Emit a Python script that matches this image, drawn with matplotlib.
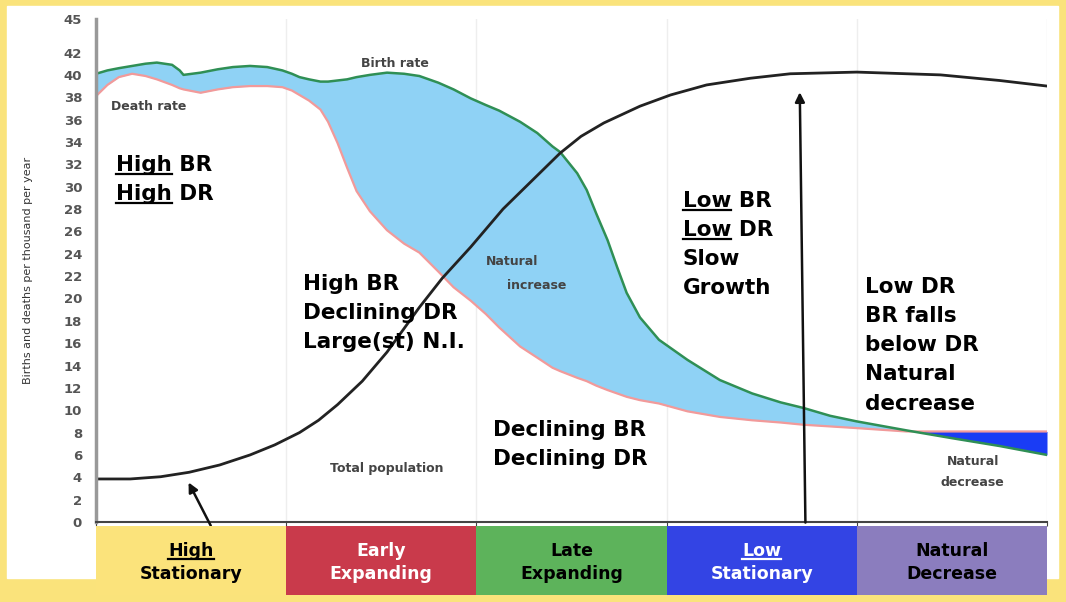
import numpy as np
import matplotlib.pyplot as plt
from matplotlib.patches import Rectangle
from matplotlib.lines import Line2D

# x runs 0..5, one unit per stage of the model
x = [0, 0.06, 0.12, 0.19, 0.26, 0.32, 0.40, 0.44, 0.46, 0.55, 0.64, 0.72, 0.81, 0.90,
     0.98, 1.03, 1.07, 1.12, 1.18, 1.22, 1.27, 1.32, 1.37, 1.44, 1.53, 1.62, 1.70, 1.80,
     1.88, 1.97, 2.05, 2.12, 2.23, 2.32, 2.40, 2.44, 2.53, 2.58, 2.63, 2.69, 2.74, 2.79,
     2.86, 2.96, 3.11, 3.28, 3.45, 3.60, 3.72, 3.86, 4.0, 4.13, 4.26, 4.5, 4.75, 5.0]
birth = [40.1, 40.4, 40.6, 40.8, 41.0, 41.1, 40.9, 40.4, 40.0, 40.2, 40.5, 40.7, 40.8, 40.7,
         40.4, 40.1, 39.8, 39.6, 39.4, 39.4, 39.5, 39.6, 39.8, 40.0, 40.2, 40.1, 39.9, 39.3,
         38.7, 37.9, 37.3, 36.8, 35.8, 34.8, 33.6, 33.1, 31.2, 29.7, 27.6, 25.2, 22.8, 20.5,
         18.3, 16.3, 14.5, 12.7, 11.5, 10.7, 10.2, 9.5, 9.0, 8.6, 8.2, 7.5, 6.8, 6.0]
death = [38.1, 39.1, 39.8, 40.1, 39.9, 39.6, 39.1, 38.8, 38.7, 38.4, 38.7, 38.9, 39.0, 39.0,
         38.9, 38.6, 38.2, 37.7, 36.9, 35.8, 33.9, 31.7, 29.6, 27.8, 26.1, 24.9, 24.1, 22.4,
         21.0, 19.8, 18.6, 17.4, 15.7, 14.7, 13.8, 13.5, 12.9, 12.6, 12.2, 11.8, 11.5, 11.2,
         10.9, 10.6, 9.9, 9.4, 9.1, 8.9, 8.7, 8.55, 8.4, 8.25, 8.1, 8.1, 8.1, 8.1]

pop_x = [0, 0.18, 0.34, 0.49, 0.65, 0.81, 0.94, 1.07, 1.17, 1.27, 1.40, 1.53, 1.70, 1.82,
         1.97, 2.14, 2.32, 2.44, 2.55, 2.67, 2.86, 3.02, 3.21, 3.44, 3.65, 4.0, 4.44, 4.75, 5.0]
pop = [3.85, 3.85, 4.05, 4.45, 5.1, 6.0, 6.9, 8.0, 9.1, 10.5, 12.6, 15.2, 19.2, 21.8,
       24.6, 28.0, 31.0, 33.0, 34.5, 35.7, 37.2, 38.2, 39.1, 39.7, 40.1, 40.25, 40.0, 39.5, 39.0]

yticks = [0, 2, 4, 6, 8, 10, 12, 14, 16, 18, 20, 22, 24, 26, 28, 30, 32, 34, 36, 38, 40, 42, 45]

stages = [['High', 'Stationary'], ['Early', 'Expanding'], ['Late', 'Expanding'],
          ['Low', 'Stationary'], ['Natural', 'Decrease']]
stage_under = [True, False, False, True, False]
stage_colors = ['#fbe37b', '#c93a4b', '#5db35b', '#3344e4', '#8b7dbe']
stage_text = ['black', 'white', 'black', 'white', 'black']

birth = np.array(birth)
death = np.array(death)

fig = plt.figure(figsize=(10.66, 6.02), dpi=100, facecolor='#fae37b')
fig.patches.append(Rectangle((7 / 1066, 24 / 602), 1051 / 1066, 572 / 602,
                             transform=fig.transFigure, color='white', zorder=-10))

ax = fig.add_axes([96 / 1066, 80 / 602, 951 / 1066, 503 / 602])
ax.patch.set_alpha(0)

ax.fill_between(x, birth, death, where=birth >= death, interpolate=True,
                color='#8fd2f5', lw=0)
ax.fill_between(x, birth, death, where=birth < death, interpolate=True,
                color='#1a3cf5', lw=0)
ax.plot(x, death, color='#f29a9a', lw=1.6)
ax.plot(x, birth, color='#2f8f55', lw=1.8)
ax.plot(pop_x, pop, color='#222222', lw=2)

ax.set_xlim(0, 5)
ax.set_ylim(0, 45)
ax.set_yticks(yticks)
ax.set_xticks([0, 1, 2, 3, 4, 5])
ax.set_xticklabels([])
ax.tick_params(axis='y', length=0, labelsize=9.5, labelcolor='#555555', pad=10)
ax.tick_params(axis='x', length=3, color='#444444')
for lbl in ax.get_yticklabels():
    lbl.set_fontweight('bold')
ax.grid(axis='x', color='#eeeeee', lw=1)
ax.set_axisbelow(True)
for s in ['top', 'right']:
    ax.spines[s].set_visible(False)
ax.spines['left'].set_color('#999999')
ax.spines['left'].set_linewidth(2.5)
ax.spines['bottom'].set_color('#444444')
ax.spines['bottom'].set_linewidth(1.5)
ax.set_ylabel('Births and deaths per thousand per year', fontsize=8, color='#333333',
              labelpad=22)

# small curve labels
small = dict(fontsize=9, color='#444444', fontweight='bold')
ax.text(1.57, 41.0, 'Birth rate', ha='center', va='center', **small)
ax.text(0.08, 37.2, 'Death rate', ha='left', va='center', **small)
ax.text(2.05, 23.3, 'Natural', ha='left', va='center', **small)
ax.text(2.16, 21.2, 'increase', ha='left', va='center', **small)
ax.text(1.23, 4.8, 'Total population', ha='left', va='center', **small)
ax.text(4.61, 5.4, 'Natural', ha='center', va='center', **small)
ax.text(4.61, 3.5, 'decrease', ha='center', va='center', **small)

to_underline = []  # (text artist, colour)


def block(axes, x0, y0, lines, under=None, size=15.5, step=21, ha='left', color='black'):
    under = under or {}
    for i, line in enumerate(lines):
        kw = dict(xy=(x0, y0), xytext=(0, -i * step), textcoords='offset points',
                  ha=ha, va='baseline', fontsize=size, fontweight='bold',
                  annotation_clip=False)
        axes.annotate(line, color=color, **kw)
        if i in under:
            t = axes.annotate(under[i], alpha=0, **kw)
            to_underline.append((t, color))


# stage notes
block(ax, 0.105, 31.4, ['High BR', 'High DR'], under={0: 'High', 1: 'High'})
block(ax, 1.088, 20.75, ['High BR', 'Declining DR', 'Large(st) N.I.'])
block(ax, 2.087, 7.7, ['Declining BR', 'Declining DR'])
block(ax, 3.086, 28.2, ['Low BR', 'Low DR', 'Slow', 'Growth'], under={0: 'Low', 1: 'Low'})
block(ax, 4.043, 20.5, ['Low DR', 'BR falls', 'below DR', 'Natural', 'decrease'])

# arrows
ax.annotate('', xy=(0.48, 3.76), xytext=(0.61, -0.55), annotation_clip=False,
            arrowprops=dict(arrowstyle='-|>', color='#111111', lw=1.8, mutation_scale=14))
ax.annotate('', xy=(3.70, 38.7), xytext=(3.73, -0.3), annotation_clip=False,
            arrowprops=dict(arrowstyle='-|>', color='#111111', lw=1.8, mutation_scale=14))

# stage boxes
bx = fig.add_axes([96 / 1066, 7 / 602, 951 / 1066, 69 / 602])
bx.bar(range(len(stages)), 1, width=1, align='edge', color=stage_colors)
for i, name in enumerate(stages):
    block(bx, i + 0.5, 0.565, name, under={0: name[0]} if stage_under[i] else None,
          size=12.5, step=16.6, ha='center', color=stage_text[i])
bx.set_xlim(0, 5)
bx.set_ylim(0, 1)
bx.axis('off')

fig.canvas.draw()
inv = fig.transFigure.inverted()
for t, c in to_underline:
    bb = t.get_window_extent()
    (ux0, uy), (ux1, _) = inv.transform([(bb.x0, bb.y0 + 1), (bb.x1, bb.y0 + 1)])
    fig.add_artist(Line2D([ux0, ux1], [uy, uy], color=c, lw=1.6, transform=fig.transFigure))

fig.savefig('out.png', dpi=100, facecolor=fig.get_facecolor())
